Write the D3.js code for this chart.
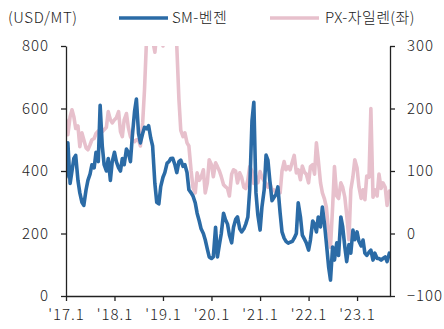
<!DOCTYPE html>
<html>
<head>
<meta charset="utf-8">
<script src="https://cdn.jsdelivr.net/npm/d3@7"></script>
<style>
  html, body { margin: 0; padding: 0; background: #fff; }
  svg { display: block; }
  text { font-family: "Noto Sans CJK KR", "Noto Sans", sans-serif; font-weight: 300; fill: #222; }
</style>
</head>
<body>
<svg id="chart" width="444" height="329"></svg>
<script>
// Semi-monthly observation dates
const dates = [
  "2017-01-01","2017-01-15","2017-02-01","2017-02-15","2017-03-01","2017-03-15","2017-04-01","2017-04-15","2017-05-01","2017-05-15","2017-06-01","2017-06-15","2017-07-01","2017-07-15","2017-08-01","2017-08-15","2017-09-01","2017-09-15","2017-10-01","2017-10-15","2017-11-01","2017-11-15","2017-12-01","2017-12-15",
  "2018-01-01","2018-01-15","2018-02-01","2018-02-15","2018-03-01","2018-03-15","2018-04-01","2018-04-15","2018-05-01","2018-05-15","2018-06-01","2018-06-15","2018-07-01","2018-07-15","2018-08-01","2018-08-15","2018-09-01","2018-09-15","2018-10-01","2018-10-15","2018-11-01","2018-11-15","2018-12-01","2018-12-15",
  "2019-01-01","2019-01-15","2019-02-01","2019-02-15","2019-03-01","2019-03-15","2019-04-01","2019-04-15","2019-05-01","2019-05-15","2019-06-01","2019-06-15","2019-07-01","2019-07-15","2019-08-01","2019-08-15","2019-09-01","2019-09-15","2019-10-01","2019-10-15","2019-11-01","2019-11-15","2019-12-01","2019-12-15",
  "2020-01-01","2020-01-15","2020-02-01","2020-02-15","2020-03-01","2020-03-15","2020-04-01","2020-04-15","2020-05-01","2020-05-15","2020-06-01","2020-06-15","2020-07-01","2020-07-15","2020-08-01","2020-08-15","2020-09-01","2020-09-15","2020-10-01","2020-10-15","2020-11-01","2020-11-15","2020-12-01","2020-12-15",
  "2021-01-01","2021-01-15","2021-02-01","2021-02-15","2021-03-01","2021-03-15","2021-04-01","2021-04-15","2021-05-01","2021-05-15","2021-06-01","2021-06-15","2021-07-01","2021-07-15","2021-08-01","2021-08-15","2021-09-01","2021-09-15","2021-10-01","2021-10-15","2021-11-01","2021-11-15","2021-12-01","2021-12-15",
  "2022-01-01","2022-01-15","2022-02-01","2022-02-15","2022-03-01","2022-03-15","2022-04-01","2022-04-15","2022-05-01","2022-05-15","2022-06-01","2022-06-15","2022-07-01","2022-07-15","2022-08-01","2022-08-15","2022-09-01","2022-09-15","2022-10-01","2022-10-15","2022-11-01","2022-11-15","2022-12-01","2022-12-15",
  "2023-01-01","2023-01-15","2023-02-01","2023-02-15","2023-03-01","2023-03-15","2023-04-01","2023-04-15","2023-05-01","2023-05-15","2023-06-01","2023-06-15","2023-07-01","2023-07-15","2023-08-01","2023-08-15","2023-09-01"
];

// SM - benzene spread, USD/MT (left axis)
const smBenzene = [
  380,490,360,400,440,450,370,330,300,290,340,370,390,420,410,460,430,610,480,420,400,440,370,430,
  460,430,410,400,440,420,470,460,430,510,590,630,520,490,520,540,535,545,505,480,360,300,295,350,
  380,395,425,430,440,441,420,395,430,435,415,420,395,340,330,320,298,265,240,215,200,180,150,125,
  120,125,220,125,165,200,265,245,230,195,170,220,245,253,215,205,215,230,253,340,560,620,330,260,
  211,285,340,451,435,371,305,315,325,349,265,205,185,175,169,172,175,185,200,298,253,195,182,170,
  147,179,240,230,205,253,221,285,230,169,93,51,157,115,170,130,253,221,157,110,165,137,211,180,
  205,175,160,179,137,130,140,147,115,137,120,120,115,120,125,110,137
];

// PX - xylene spread, USD/MT (right axis)
const pxXylene = [
  182,158,187,198,187,168,172,139,161,150,137,134,142,150,152,160,164,166,163,166,170,195,182,177,
  182,185,195,163,155,182,192,170,155,150,147,150,150,140,177,230,320,340,330,310,290,320,340,310,
  300,320,350,340,330,320,310,300,215,165,155,161,145,140,100,74,65,97,85,90,102,65,81,118,
  110,91,113,107,100,91,78,75,72,60,95,102,100,81,97,90,74,72,86,107,100,80,91,81,
  99,90,84,80,74,81,70,70,65,70,65,100,115,102,107,102,115,125,97,102,86,108,98,95,
  81,107,110,95,145,118,81,65,55,42,1,-22,42,107,60,56,81,74,58,30,-10,70,91,118,
  105,75,56,70,54,92,90,200,58,70,60,95,72,81,74,45,68
];

const leftTicks = [0, 200, 400, 600, 800];
const rightTicks = [-100, 0, 100, 200, 300];
const xTickDates = ["2017-01-01","2018-01-01","2019-01-01","2020-01-01","2021-01-01","2022-01-01","2023-01-01"];
const xTickLabels = ["'17.1","'18.1","'19.1","'20.1","'21.1","'22.1","'23.1"];

const seriesNames = ["SM-벤젠", "PX-자일렌(좌)"];
const unitLabel = "(USD/MT)";

const parse = d3.utcParse("%Y-%m-%d");
const svg = d3.select("#chart");

const margin = { left: 66, right: 54, top: 46, bottom: 33 };
const W = 444, H = 329;
const x0 = margin.left, x1 = W - margin.right, y0 = H - margin.bottom, y1 = margin.top;

const x = d3.scaleUtc()
  .domain([parse("2017-01-01"), parse("2023-09-06")])
  .range([x0, x1]);
const yL = d3.scaleLinear().domain([0, 800]).range([y0, y1]);
const yR = d3.scaleLinear().domain([-100, 300]).range([y0, y1]);

const blue = "#2b6ba6";
const pink = "#e7c0cc";

svg.append("defs").append("clipPath").attr("id", "plot")
  .append("rect").attr("x", x0).attr("y", y1).attr("width", x1 - x0).attr("height", y0 - y1);

const parsed = dates.map(parse);

const lineL = d3.line().x((d, i) => x(parsed[i])).y(d => yL(d));
const lineR = d3.line().x((d, i) => x(parsed[i])).y(d => yR(d));

const plot = svg.append("g").attr("clip-path", "url(#plot)");
plot.append("path").datum(pxXylene)
  .attr("d", lineR).attr("fill", "none")
  .attr("stroke", pink).attr("stroke-width", 3.6)
  .attr("stroke-linejoin", "round").attr("stroke-linecap", "round");
plot.append("path").datum(smBenzene)
  .attr("d", lineL).attr("fill", "none")
  .attr("stroke", blue).attr("stroke-width", 3.6)
  .attr("stroke-linejoin", "round").attr("stroke-linecap", "round");

// Axes
const axisColor = "#222";
function styleAxis(g) {
  g.selectAll(".domain").attr("stroke", axisColor).attr("stroke-width", 1.3);
  g.selectAll(".tick line").attr("stroke", axisColor).attr("stroke-width", 1.3);
  g.selectAll(".tick text").attr("fill", "#222")
    .style("font-size", "15px").style("letter-spacing", "1px");
}

svg.append("g").attr("transform", `translate(${x0},0)`)
  .call(d3.axisLeft(yL).tickValues(leftTicks).tickSize(5).tickSizeOuter(0).tickPadding(12))
  .call(styleAxis);

svg.append("g").attr("transform", `translate(${x1},0)`)
  .call(d3.axisRight(yR).tickValues(rightTicks).tickSize(5).tickSizeOuter(0).tickFormat(d => d < 0 ? "−" + Math.abs(d) : d).tickPadding(12))
  .call(styleAxis);

svg.append("g").attr("transform", `translate(0,${y0})`)
  .call(d3.axisBottom(x).tickValues(xTickDates.map(parse)).tickSize(5).tickSizeOuter(0)
    .tickFormat((d, i) => xTickLabels[i]).tickPadding(8))
  .call(styleAxis);

// Legend
svg.append("text").attr("x", 8).attr("y", 23).text(unitLabel)
  .style("font-size", "15px").style("letter-spacing", "0.6px");

const legend = [
  { name: seriesNames[0], color: blue, lx: 119, tx: 172 },
  { name: seriesNames[1], color: pink, lx: 270, tx: 325 }
];
legend.forEach(l => {
  svg.append("line").attr("x1", l.lx).attr("x2", l.lx + 49).attr("y1", 18).attr("y2", 18)
    .attr("stroke", l.color).attr("stroke-width", 3.6);
  svg.append("text").attr("x", l.tx).attr("y", 23).text(l.name)
    .style("font-size", "15px").style("letter-spacing", "0.4px");
});
</script>
</body>
</html>
